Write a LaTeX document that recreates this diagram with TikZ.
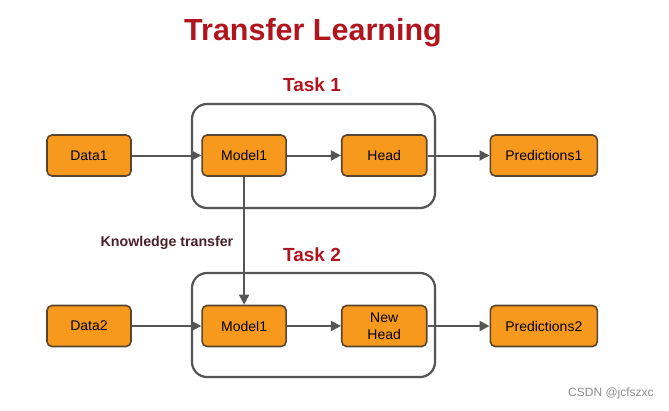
\documentclass[tikz,border=0pt]{standalone}
\usepackage{fontspec}
\setmainfont{Liberation Sans}
\usetikzlibrary{positioning,arrows.meta,shadows}
\definecolor{boxfill}{HTML}{F7991C}
\definecolor{boxline}{HTML}{5A4630}
\definecolor{linegray}{HTML}{555555}
\definecolor{titlered}{HTML}{B0151E}
\definecolor{darkmaroon}{HTML}{4A1E2A}
\begin{document}
\begin{tikzpicture}[x=1pt,y=-1pt,
        box/.style={
            rectangle,
            rounded corners=5pt,
            draw=boxline, line width=1.6pt,
            fill=boxfill,
            minimum width=84pt,
            minimum height=41pt,
            inner sep=2pt,
            align=center,
            font=\fontsize{14}{17}\selectfont},
        taskframe/.style={
            rectangle,
            rounded corners=15pt,
            draw=linegray, line width=2.2pt,
            drop shadow={opacity=0.12, shadow xshift=1.5pt, shadow yshift=-1.5pt},
            fill=white,
            minimum width=243pt,
            minimum height=104pt},
        tasklabel/.style={
            text=titlered,
            font=\fontsize{19}{22}\selectfont\bfseries},
        arrow/.style={
            draw=linegray,
            line width=2pt,
            -{Triangle[length=10pt,width=10pt]}}
        ]

    \useasboundingbox (0,0) rectangle (669,410);

    % task frames
    \node (frame1) [taskframe] at (313.5,156) {};
    \node (frame2) [taskframe] at (313.5,325) {};

    % labels
    \node (title) [text=titlered, font=\fontsize{30.5}{34}\selectfont\bfseries] at (313,33) {Transfer Learning};
    \node (task1) [tasklabel] at (312,85) {Task 1};
    \node (task2) [tasklabel] at (312,255) {Task 2};
    \node (knowledge) [text=darkmaroon, font=\fontsize{14.2}{16}\selectfont\bfseries] at (167,243) {Knowledge transfer};

    % task 1
    \node (data1) [box] at (89,155.5) {Data1};
    \node (model1) [box, right=69.5pt of data1] {Model1};
    \node (head) [box, minimum width=85pt, right=54pt of model1] {Head};
    \node (pred1) [box, minimum width=107pt, right=62pt of head] {Predictions1};

    % task 2
    \node (data2) [box] at (89,326) {Data2};
    \node (model2) [box, right=69.5pt of data2] {Model1};
    \node (newhead) [box, minimum width=85pt, right=54pt of model2] {New\\Head};
    \node (pred2) [box, minimum width=107pt, right=62pt of newhead] {Predictions2};

    \draw [arrow] (data1) -- (model1);
    \draw [arrow] (model1) -- (head);
    \draw [arrow] (head) -- (pred1);
    \draw [arrow] (data2) -- (model2);
    \draw [arrow] (model2) -- (newhead);
    \draw [arrow] (newhead) -- (pred2);
    \draw [arrow] (model1) -- (model2);

    \node (mark) [text=black!45, font=\fontsize{12}{14}\selectfont] at (611,393) {CSDN @jcfszxc};

\end{tikzpicture}
\end{document}
